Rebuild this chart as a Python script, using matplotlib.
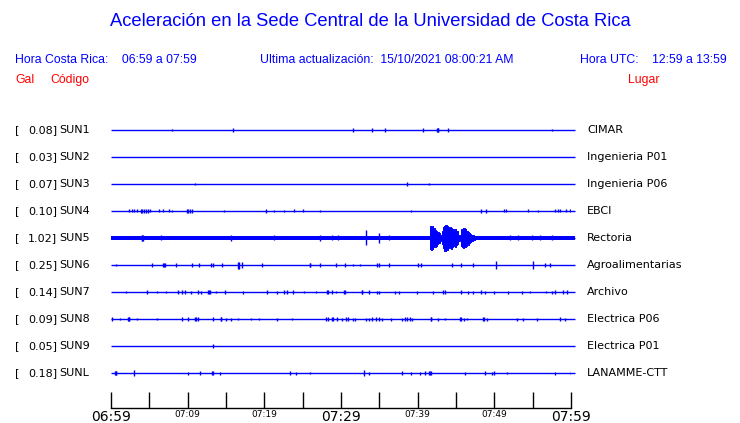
import matplotlib
matplotlib.use('Agg')
import matplotlib.pyplot as plt

BLUE = '#0000ff'
RED = '#ff0000'
W, H = 740, 423

codes = ['SUN1', 'SUN2', 'SUN3', 'SUN4', 'SUN5', 'SUN6', 'SUN7', 'SUN8', 'SUN9', 'SUNL']
peaks = ['0.08', '0.03', '0.07', '0.10', '1.02', '0.25', '0.14', '0.09', '0.05', '0.18']
places = ['CIMAR', 'Ingenieria P01', 'Ingenieria P06', 'EBCI', 'Rectoria',
          'Agroalimentarias', 'Archivo', 'Electrica P06', 'Electrica P01', 'LANAMME-CTT']

tick_min = list(range(0, 61, 5))
tick_labels = ['06:59', '', '07:09', '', '07:19', '', '07:29', '', '07:39', '', '07:49', '', '07:59']

# spikes: minutes after 06:59 and half height (pixels)
sun1_t = [7.9, 15.9, 31.6, 34.1, 35.7, 40.7, 42.5, 42.6, 42.7, 44.0, 57.5]
sun1_a = [1, 2, 2, 2, 2, 2, 2, 2, 2, 2, 1]
sun2_t = []
sun2_a = []
sun3_t = [10.9, 38.6, 41.5]
sun3_a = [1, 2, 1]
sun4_t = [2.35, 2.7, 3.0, 3.35, 3.9, 4.1, 4.35, 4.6, 4.8, 5.1, 6.3, 6.8, 7.5, 8.0,
          9.9, 10.1, 10.3, 10.6, 14.8, 20.2, 21.2, 22.6, 23.9, 25.0, 27.2, 39.1,
          48.2, 48.9, 51.2, 51.5, 54.4, 55.7, 57.9, 58.3, 58.6, 59.4, 59.9]
sun4_a = [1.5, 1.5, 1.5, 1.5, 2, 2, 2, 2, 2, 1.5, 1.5, 1.5, 1.5, 1,
          2, 2, 2, 2, 1, 2, 1, 1, 1.5, 1.5, 1, 1,
          2, 2, 1.5, 1.5, 1.5, 1, 1.5, 1.5, 1.5, 1.5, 1.5]
sun5_t = [4.0, 4.1, 4.2, 6.5, 15.6, 21.2, 27.2, 28.8, 29.6, 33.3, 34.9, 36.2,
          52.0, 53.1, 54.9, 56.0, 57.5]
sun5_a = [3, 3, 3, 2.5, 3, 2.5, 3, 2.5, 2.5, 7.5, 5, 2.5,
          2.5, 2.5, 2.5, 2.5, 2.5]
sun6_t = [0.6, 5.4, 6.8, 6.9, 7.0, 8.5, 10.5, 11.5, 13.0, 13.3, 14.5, 16.5, 16.7,
          17.1, 19.7, 25.9, 26.0, 27.2, 29.3, 30.5, 31.6, 32.5, 34.7, 35.0, 36.3,
          40.1, 40.4, 44.5, 45.7, 47.2, 50.2, 55.0, 56.6, 57.2]
sun6_a = [1, 2, 2, 2, 2, 2, 2, 2, 2, 2, 2, 3.5, 3.5,
          3, 2, 2, 2, 2, 2, 2, 1, 1, 2, 2, 2,
          2, 2, 2, 2, 2, 4, 4, 2, 2]
sun7_t = [2.0, 4.7, 6.0, 7.2, 8.7, 9.3, 9.7, 10.4, 11.4, 11.8, 12.7, 12.8, 12.9,
          13.7, 14.9, 17.2, 20.3, 21.7, 22.6, 22.9, 23.7, 25.2, 26.7, 28.2, 28.3,
          28.8, 29.3, 30.4, 30.5, 32.7, 32.8, 33.6, 34.7, 35.0, 37.0, 37.5, 39.9,
          42.0, 43.3, 43.6, 45.6, 46.5, 47.2, 48.2, 48.8, 50.0, 51.8, 53.6, 54.6,
          56.8, 57.5, 57.9, 59.0, 59.5]
sun7_a = [1, 2, 1, 1, 2, 2, 2, 1.5, 2, 1.5, 2, 2, 2,
          1, 2, 1.5, 2, 1.5, 2, 2, 2, 1, 1, 2, 2,
          2, 1, 2, 2, 2, 2, 2, 1.5, 1.5, 1.5, 1.5, 1.5,
          1.5, 2, 2, 2, 1.5, 1.5, 2, 1.5, 1.5, 1.5, 1.5, 1,
          1, 1.5, 2, 2, 2]
sun8_t = [0.1, 1.2, 2.2, 2.3, 2.4, 3.4, 6.0, 9.3, 10.1, 11.0, 11.1, 11.4, 13.3,
          14.3, 14.4, 15.0, 15.7, 16.6, 18.3, 19.3, 21.7, 23.6, 28.0, 28.3, 28.8,
          28.9, 29.5, 30.1, 30.6, 30.9, 31.5, 31.8, 33.2, 33.7, 34.0, 34.5, 34.9,
          35.4, 36.5, 37.9, 38.3, 38.6, 39.0, 39.2, 41.7, 41.8, 42.7, 43.6, 45.5,
          45.6, 46.0, 46.4, 48.5, 48.6, 49.1, 53.0, 53.7, 55.5, 58.6, 59.2]
sun8_a = [2, 1, 2, 2, 2, 1, 1, 2, 2, 2, 2, 2, 2,
          2, 2, 1.5, 1.5, 1, 1, 1, 1.5, 1, 2, 2, 2,
          2, 2, 1.5, 2, 2, 1.5, 1.5, 1.5, 1.5, 2, 2, 2,
          1.5, 1.5, 1.5, 2, 2, 2, 1.5, 2, 2, 1.5, 1, 2,
          2, 1.5, 1, 2, 2, 1.5, 1.5, 1.5, 1.5, 2, 1.5]
sun9_t = [13.3]
sun9_a = [2]
sunl_t = [0.5, 0.6, 0.7, 3.0, 10.0, 11.6, 13.2, 13.3, 14.2, 23.3, 24.1, 25.9,
          33.0, 33.6, 38.0, 39.1, 40.3, 41.0, 41.5, 41.6, 41.7, 46.2, 48.8, 49.7,
          50.0, 51.6, 57.9, 60.0]
sunl_a = [2, 2, 2, 3, 1.5, 2, 2, 2, 1.5, 2, 1.5, 1,
          3, 1.5, 2, 1.5, 1.5, 2, 2, 2, 2, 1.5, 2, 1.5,
          2, 1, 1.5, 2]

spike_t = [sun1_t, sun2_t, sun3_t, sun4_t, sun5_t, sun6_t, sun7_t, sun8_t, sun9_t, sunl_t]
spike_a = [sun1_a, sun2_a, sun3_a, sun4_a, sun5_a, sun6_a, sun7_a, sun8_a, sun9_a, sunl_a]

# SUN5 (Rectoria) strong motion envelope, minutes / upper and lower half height in pixels
burst_t = [41.5, 41.6, 41.7, 41.8, 41.9, 42.0, 42.1, 42.2, 42.3, 42.4, 42.5, 42.6,
           42.7, 42.8, 42.95, 43.1, 43.3, 43.4, 43.5, 43.6, 43.7, 43.8, 43.9, 44.0,
           44.1, 44.2, 44.3, 44.4, 44.5, 44.6, 44.7, 44.8, 44.9, 45.0, 45.1, 45.2,
           45.35, 45.6, 45.75, 45.85, 45.9, 46.0, 46.1, 46.2, 46.3, 46.4, 46.5, 46.6,
           46.7, 46.8, 46.9, 47.1, 47.3, 47.5]
burst_up = [1.5, 10, 12, 11, 12, 10, 9, 10, 8, 8, 7, 6,
            6, 5, 3, 1.8, 7, 11, 12, 13, 11, 13, 12, 11,
            9, 10, 11, 10, 8, 9, 7, 9, 8, 9, 7, 7,
            3, 1.8, 9, 8, 10, 9, 10, 8, 9, 7, 7, 6,
            6, 5, 4, 3, 2.5, 1.8]
burst_dn = [1.5, 9, 11, 12, 10, 11, 9, 8, 9, 7, 8, 6,
            5, 5, 3, 1.8, 6, 10, 13, 12, 13, 11, 12, 10,
            10, 9, 10, 11, 9, 8, 8, 7, 9, 8, 7, 6,
            3, 1.8, 8, 9, 9, 10, 9, 9, 8, 8, 6, 7,
            5, 5, 4, 3, 2.5, 1.8]
sun5_noise = 1.8

t_end = 60.5
row_px = 27.0


def fx(px):
    return px / W


def fy(py):
    return 1 - py / H


fig = plt.figure(figsize=(W / 100, H / 100), dpi=100)

# header
hfont = 'Liberation Sans'
hsize = 8.8
fig.text(0.5, fy(22), 'Aceleración en la Sede Central de la Universidad de Costa Rica',
         color=BLUE, fontsize=13.2, family=hfont, ha='center', va='center')
fig.text(fx(15), fy(60), 'Hora Costa Rica:    06:59 a 07:59', color=BLUE, fontsize=hsize,
         family=hfont, va='center')
fig.text(fx(260), fy(60), 'Ultima actualización:  15/10/2021 08:00:21 AM', color=BLUE,
         fontsize=hsize, family=hfont, va='center')
fig.text(fx(580), fy(60), 'Hora UTC:    12:59 a 13:59', color=BLUE, fontsize=hsize,
         family=hfont, va='center')
fig.text(fx(15), fy(80), 'Gal', color=RED, fontsize=hsize, family=hfont, va='center')
fig.text(fx(50), fy(80), 'Código', color=RED, fontsize=hsize, family=hfont, va='center')
fig.text(fx(628), fy(80), 'Lugar', color=RED, fontsize=hsize, family=hfont, va='center')

# traces
ax = fig.add_axes([fx(111), fy(400), fx(460), (400 - 103) / H])
ax.set_xlim(0, 60)
ax.set_ylim(10, -1)
ax.axis('off')

for i in range(len(codes)):
    yy = fy(130 + row_px * i)
    fig.text(fx(15), yy, '[', fontsize=8, va='center')
    fig.text(fx(57), yy, peaks[i] + ']', fontsize=8, va='center', ha='right')
    fig.text(fx(59), yy, codes[i], fontsize=8, va='center')
    fig.text(fx(587), yy, places[i], fontsize=8, va='center')

    ax.hlines(i, 0, t_end, color=BLUE, lw=1.0, clip_on=False)
    if codes[i] == 'SUN5':
        ax.fill_between([0, t_end], i - sun5_noise / row_px, i + sun5_noise / row_px,
                        color=BLUE, lw=0, clip_on=False)
        lo = [i - a / row_px for a in burst_up]
        hi = [i + a / row_px for a in burst_dn]
        ax.fill_between(burst_t, lo, hi, facecolor=BLUE, edgecolor=BLUE, lw=0.7,
                        step='mid')
    tt = spike_t[i]
    aa = spike_a[i]
    if tt:
        ax.vlines(tt, [i - a / row_px for a in aa], [i + a / row_px for a in aa],
                  color=BLUE, lw=1.0)

# time axis
tax = fig.add_axes([fx(111), fy(408), fx(460), 0.0001])
tax.set_xlim(0, 60)
tax.set_yticks([])
for s in ['top', 'left', 'right']:
    tax.spines[s].set_visible(False)
tax.spines['bottom'].set_linewidth(1.0)
tax.set_xticks(tick_min)
tax.set_xticklabels(tick_labels)
tax.tick_params(axis='x', direction='in', length=11.5, width=1.0, pad=1.5)
for lab, txt in zip(tax.get_xticklabels(), tick_labels):
    if txt in ('06:59', '07:29', '07:59'):
        lab.set_fontsize(10)
    else:
        lab.set_fontsize(6.5)

fig.savefig('out.png', dpi=100)
